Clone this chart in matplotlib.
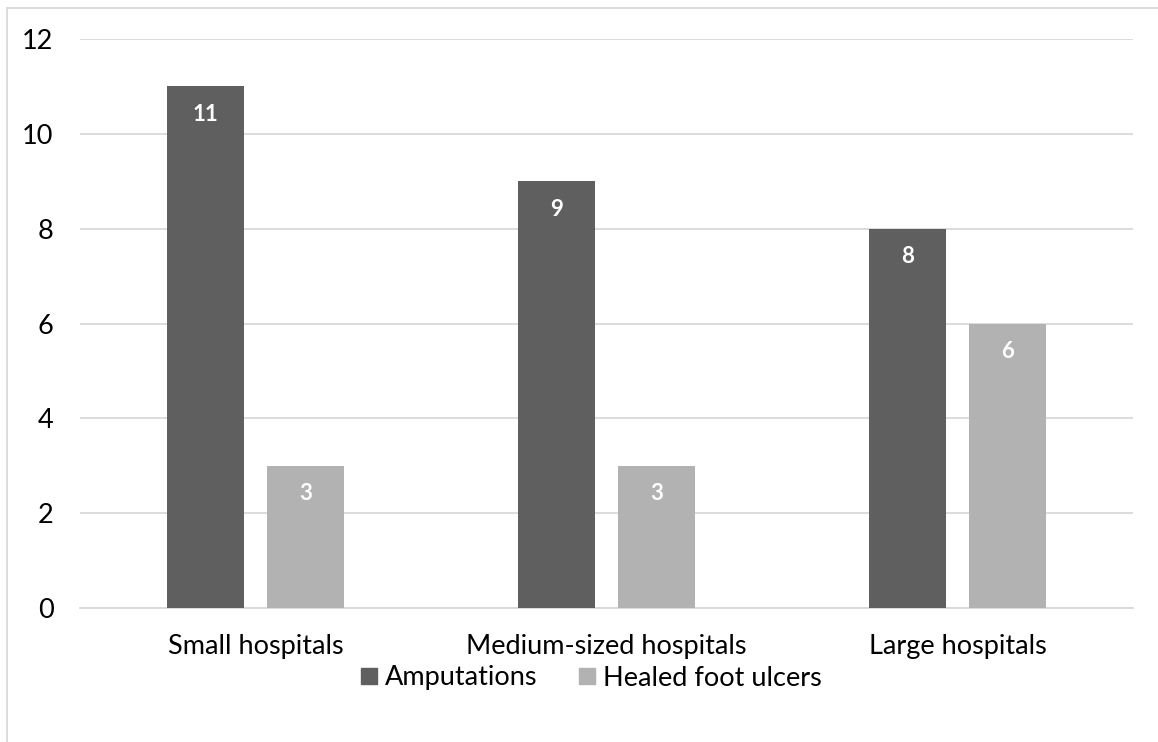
import matplotlib
matplotlib.use("Agg")
import matplotlib.pyplot as plt
from matplotlib.lines import Line2D
import numpy as np

categories = ["Small hospitals", "Medium-sized hospitals", "Large hospitals"]
amputations = [11, 9, 8]
healed_ulcers = [3, 3, 6]
y_ticks = [0, 2, 4, 6, 8, 10, 12]

DARK = "#5f5f5f"
LIGHT = "#b2b2b2"
GRID = "#d9d9d9"

plt.rcParams["font.family"] = ["Lato", "DejaVu Sans"]

fig = plt.figure(figsize=(11.58, 7.42), dpi=100)
ax = fig.add_axes([80 / 1158, 1 - 608 / 742, 1053 / 1158, (608 - 39) / 742])

x = np.arange(len(categories))
w = 0.222
off = 0.1425
b1 = ax.bar(x - off, amputations, w, color=DARK, zorder=3, label="Amputations")
b2 = ax.bar(x + off, healed_ulcers, w, color=LIGHT, zorder=3, label="Healed foot ulcers")

for bars in (b1, b2):
    for rect in bars:
        h = rect.get_height()
        ax.annotate(f"{h:g}", (rect.get_x() + rect.get_width() / 2, h),
                    xytext=(0, -28), textcoords="offset pixels",
                    ha="center", va="center", color="white", fontsize=16,
                    fontweight="bold", zorder=4)

ax.set_xlim(-0.5, len(categories) - 0.5)
ax.set_ylim(0, 12)
ax.set_yticks(y_ticks)
ax.set_xticks(x)
ax.set_xticklabels(categories, fontsize=19.5)
ax.tick_params(axis="y", labelsize=19.5, length=0, pad=19)
ax.tick_params(axis="x", length=0, pad=19)
ax.grid(axis="y", color=GRID, linewidth=1.3, zorder=0)
for s in ("top", "right", "left"):
    ax.spines[s].set_visible(False)
ax.spines["bottom"].set_color(GRID)
ax.spines["bottom"].set_linewidth(1.3)

handles = [
    Line2D([], [], marker="s", linestyle="none", markersize=12, color=DARK),
    Line2D([], [], marker="s", linestyle="none", markersize=12, color=LIGHT),
]
fig.legend(handles, ["Amputations", "Healed foot ulcers"], loc="center",
           bbox_to_anchor=(590 / 1158, 1 - 678 / 742), ncol=2, frameon=False,
           fontsize=19.5, handletextpad=0.18, columnspacing=1.45, handlelength=0.8)

# chart frame (left and top edges visible)
fig.add_artist(Line2D([6.5 / 1158, 6.5 / 1158], [0, 1 - 7.5 / 742],
                      transform=fig.transFigure, color=GRID, linewidth=1.3))
fig.add_artist(Line2D([6.5 / 1158, 1], [1 - 7.5 / 742, 1 - 7.5 / 742],
                      transform=fig.transFigure, color=GRID, linewidth=1.3))

fig.savefig("out.png", dpi=100)
